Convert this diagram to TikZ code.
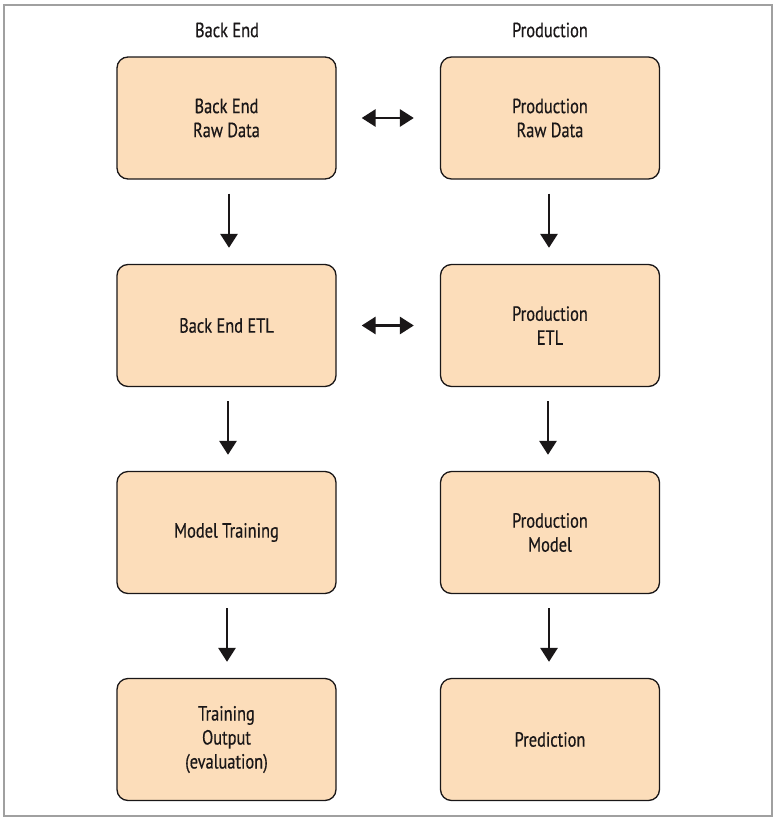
\documentclass[tikz,border=0pt]{standalone}
\usepackage{fontspec}
\setmainfont{PT Sans}[FakeStretch=0.8,FakeBold=0.45]
\usetikzlibrary{arrows.meta,calc}
\definecolor{boxfill}{HTML}{FCDDBA}
\definecolor{inkc}{HTML}{1A1718}
\definecolor{framec}{HTML}{A0A0A0}
\tikzset{
  stagebox/.style={draw=inkc, line width=1.3pt, fill=boxfill, rounded corners=11pt,
    minimum width=219pt, minimum height=122pt, inner sep=0pt, align=center,
    font=\fontsize{20.5}{24}\selectfont, text=inkc},
  header/.style={font=\fontsize{20.5}{24}\selectfont, text=inkc},
  flow/.style={line width=2.9pt, draw=inkc, -{Triangle[length=14pt,width=17pt]}},
  link/.style={line width=2.9pt, draw=inkc, {Triangle[length=14pt,width=17pt]}-{Triangle[length=14pt,width=17pt]}}
}
\begin{document}
\begin{tikzpicture}[x=1pt,y=-1pt]
\useasboundingbox (0,0) rectangle (774,817);
% outer frame
\draw[framec, line width=1.4pt] (4,5) rectangle (772,816);

% column headings
\node[header] (hback) at (227,30) {Back End};
\node[header] (hprod) at (550,30) {Production};

% back end column
\node[stagebox] (braw)   at (226.5,118)   {Back End\\Raw Data};
\node[stagebox] (betl)   at (226.5,325.5) {Back End ETL};
\node[stagebox] (btrain) at (226.5,532.5) {Model Training};
\node[stagebox] (bout)   at (226.5,739.5) {Training\\Output\\(evaluation)};

% production column
\node[stagebox] (praw)   at (550,118)   {Production\\Raw Data};
\node[stagebox] (petl)   at (550,325.5) {Production\\ETL};
\node[stagebox] (pmodel) at (550,532.5) {Production\\Model};
\node[stagebox] (ppred)  at (550,739.5) {Prediction};

% downward flow
\draw[flow] ([xshift=2.5pt,yshift=-14pt]braw.south)  -- ([xshift=2.5pt,yshift=16pt]betl.north);
\draw[flow] ([xshift=1.5pt,yshift=-14pt]betl.south)  -- ([xshift=1.5pt,yshift=16pt]btrain.north);
\draw[flow] ([xshift=0.5pt,yshift=-14pt]btrain.south) -- ([xshift=0.5pt,yshift=16pt]bout.north);
\draw[flow] ([xshift=-1pt,yshift=-14pt]praw.south)  -- ([xshift=-1pt,yshift=16pt]petl.north);
\draw[flow] ([xshift=-2pt,yshift=-14pt]petl.south)  -- ([xshift=-2pt,yshift=16pt]pmodel.north);
\draw[flow] ([xshift=-1pt,yshift=-14pt]pmodel.south) -- ([xshift=-1pt,yshift=16pt]ppred.north);

% links between the two columns
\draw[link] ([xshift=25pt]braw.east) -- ([xshift=-26pt]praw.west);
\draw[link] ([xshift=25pt]betl.east) -- ([xshift=-26pt]petl.west);
\end{tikzpicture}
\end{document}
